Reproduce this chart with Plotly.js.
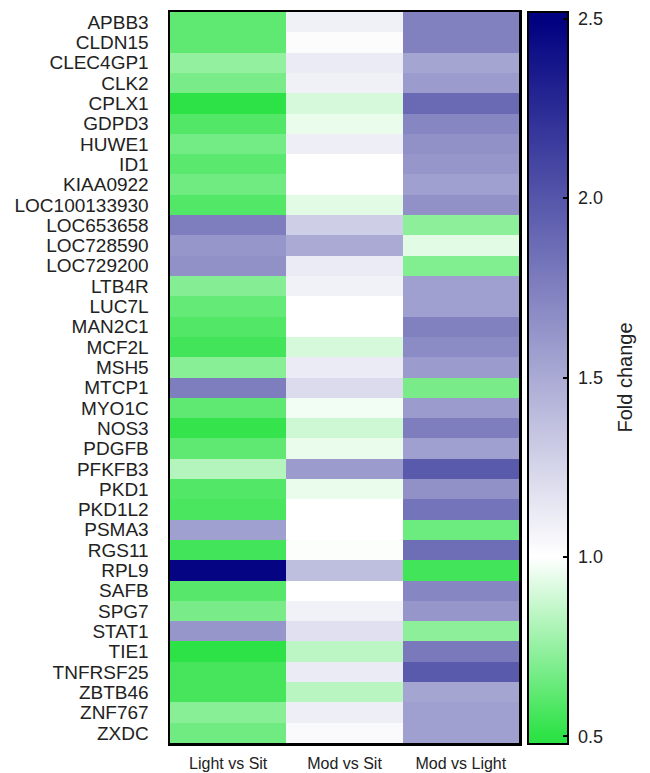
<!DOCTYPE html>
<html>
<head>
<meta charset="utf-8">
<script src="https://cdn.plot.ly/plotly-3.0.1.min.js"></script>
<style>html,body{margin:0;padding:0;background:#fff;}#chart{width:650px;height:773px;}</style>
</head>
<body>
<div id="chart"></div>
<script>
const genes = ["APBB3","CLDN15","CLEC4GP1","CLK2","CPLX1","GDPD3","HUWE1","ID1","KIAA0922","LOC100133930",
  "LOC653658","LOC728590","LOC729200","LTB4R","LUC7L","MAN2C1","MCF2L","MSH5","MTCP1","MYO1C",
  "NOS3","PDGFB","PFKFB3","PKD1","PKD1L2","PSMA3","RGS11","RPL9","SAFB","SPG7",
  "STAT1","TIE1","TNFRSF25","ZBTB46","ZNF767","ZXDC"];
const comparisons = ["Light vs Sit","Mod vs Sit","Mod vs Light"];
const lightVsSit = [0.62,0.62,0.74,0.68,0.50,0.59,0.67,0.61,0.66,0.59,
  1.76,1.62,1.65,0.71,0.63,0.59,0.55,0.72,1.76,0.62,
  0.52,0.62,0.82,0.59,0.57,1.56,0.55,2.47,0.60,0.68,
  1.62,0.50,0.56,0.56,0.72,0.66];
const modVsSit = [1.09,1.02,1.12,1.09,0.90,0.95,1.10,1.00,1.00,0.93,
  1.29,1.50,1.12,1.08,1.00,1.00,0.90,1.12,1.21,0.97,
  0.88,0.95,1.59,0.95,1.00,1.00,0.99,1.38,1.00,1.08,
  1.18,0.84,1.12,0.83,1.10,1.03];
const modVsLight = [1.74,1.74,1.53,1.59,1.88,1.71,1.65,1.62,1.56,1.65,
  0.73,0.93,0.70,1.56,1.56,1.74,1.68,1.59,0.68,1.59,
  1.76,1.56,1.97,1.65,1.82,0.65,1.85,0.55,1.71,1.62,
  0.73,1.79,1.97,1.53,1.56,1.56];
const colorTicks = [0.5,1.0,1.5,2.0,2.5];

const zmin = 0.48, zmax = 2.52;
const pos = v => (v - zmin) / (zmax - zmin);
const colorscale = [
  [0, 'rgb(45,226,70)'],
  [pos(0.5), 'rgb(45,226,70)'],
  [pos(1.0), 'rgb(255,255,255)'],
  [pos(2.5), 'rgb(0,0,128)'],
  [1, 'rgb(0,0,128)']
];

const z = genes.map((g, i) => [lightVsSit[i], modVsSit[i], modVsLight[i]]);

const font = 'Liberation Sans, Arial, sans-serif';
const trace = {
  type: 'heatmap',
  x: comparisons,
  y: genes,
  z: z,
  zmin: zmin, zmax: zmax,
  colorscale: colorscale,
  xgap: 0, ygap: 0,
  colorbar: {
    xref: 'container', x: 528/650, xanchor: 'left', xpad: 0,
    yref: 'paper', y: 0.5, yanchor: 'middle', ypad: 0,
    lenmode: 'pixels', len: 732,
    thickness: 40, thicknessmode: 'pixels',
    outlinewidth: 2, outlinecolor: '#000',
    ticks: 'inside', ticklen: 6, tickwidth: 2, tickcolor: '#000',
    tickvals: colorTicks,
    ticktext: colorTicks.map(v => '\u00a0' + v.toFixed(1)),
    tickfont: {family: font, size: 18, color: '#222'},
    title: {text: 'Fold change', side: 'right', font: {family: font, size: 20, color: '#222'}}
  }
};

const layout = {
  width: 650, height: 773,
  margin: {l: 170, r: 131, t: 12, b: 30, pad: 0},
  paper_bgcolor: '#fff', plot_bgcolor: '#fff',
  font: {family: font, color: '#222'},
  xaxis: {
    type: 'category', side: 'bottom',
    tickmode: 'array', tickvals: comparisons,
    showline: true, mirror: true, linewidth: 2.5, linecolor: '#000',
    ticks: '', showgrid: false, zeroline: false,
    tickfont: {family: font, size: 16, color: '#222'},
    ticklabelstandoff: 4
  },
  yaxis: {
    type: 'category', autorange: 'reversed',
    tickmode: 'array', tickvals: genes,
    showline: true, mirror: true, linewidth: 2.5, linecolor: '#000',
    ticks: '', showgrid: false, zeroline: false,
    tickfont: {family: font, size: 19, color: '#222'},
    ticklabelstandoff: 15
  }
};

Plotly.newPlot('chart', [trace], layout, {displayModeBar: false, staticPlot: true});
</script>
</body>
</html>
